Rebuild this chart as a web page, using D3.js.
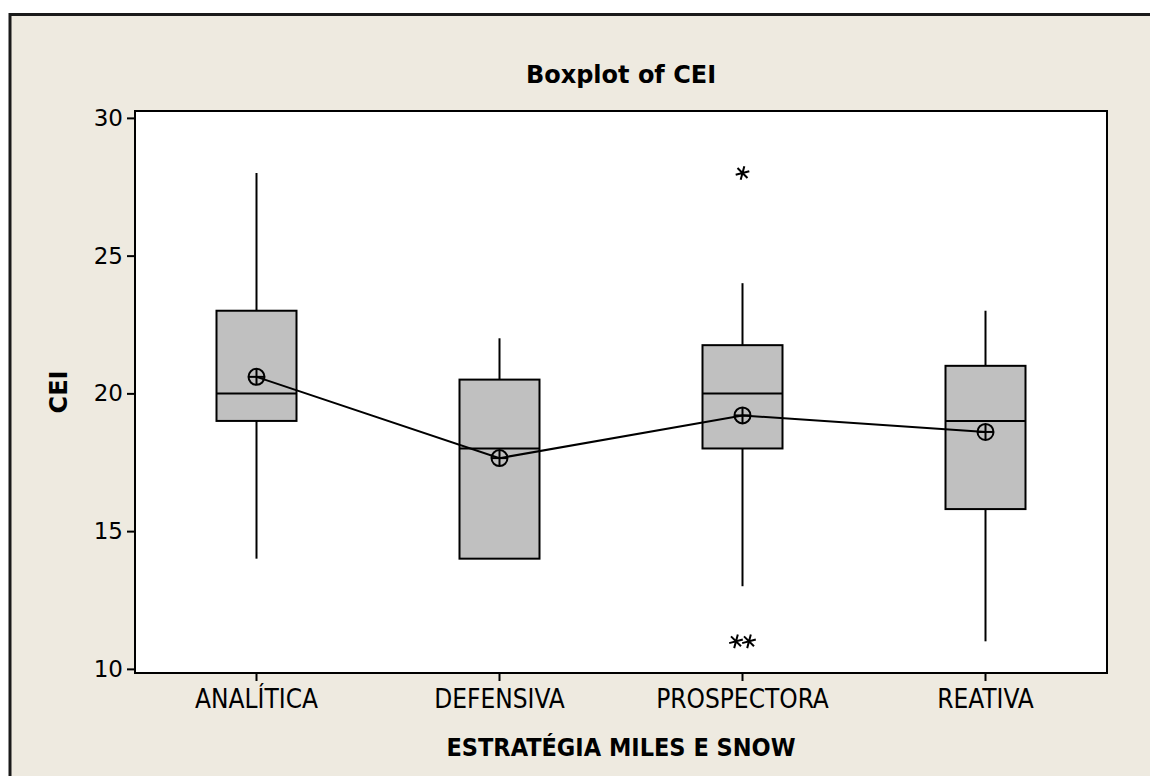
<!DOCTYPE html>
<html>
<head>
<meta charset="utf-8">
<script src="https://cdn.jsdelivr.net/npm/d3@7"></script>
<style>
  body { margin: 0; background: #fff; }
  svg { display: block; }
</style>
</head>
<body>
<div id="chart"></div>
<script>
// values
var categories = ["ANALÍTICA", "DEFENSIVA", "PROSPECTORA", "REATIVA"];
var whiskerLow = [14, 14, 13, 11];
var q1 = [19, 14, 18, 15.8];
var median = [20, 18, 20, 19];
var q3 = [23, 20.5, 21.75, 21];
var whiskerHigh = [28, 22, 24, 23];
var means = [20.6, 17.65, 19.2, 18.6];
var outliers = [[], [], [28, 11, 11], []];
var yTicks = [10, 15, 20, 25, 30];

var width = 1150, height = 776;
var plot = { left: 135, right: 1107, top: 111, bottom: 673 };

var svg = d3.select("#chart").append("svg")
  .attr("width", width)
  .attr("height", height);

// outer beige frame (cut off at right and bottom like the screenshot)
svg.append("rect")
  .attr("x", 10).attr("y", 14.5)
  .attr("width", width + 20).attr("height", height + 20)
  .attr("fill", "#eeeae0")
  .attr("stroke", "#1a1a1a")
  .attr("stroke-width", 3);

var x = d3.scaleBand()
  .domain(categories)
  .range([plot.left, plot.right])
  .padding(0);

var y = d3.scaleLinear()
  .domain([9.85, 30.25])
  .range([plot.bottom, plot.top]);

var boxW = 80;
var lw = 2;
var cx = function (i) { return x(categories[i]) + x.bandwidth() / 2; };

// plot area
svg.append("rect")
  .attr("x", plot.left).attr("y", plot.top)
  .attr("width", plot.right - plot.left)
  .attr("height", plot.bottom - plot.top)
  .attr("fill", "#fff")
  .attr("stroke", "#000")
  .attr("stroke-width", lw);

// y axis
var yAxis = svg.append("g")
  .attr("transform", "translate(" + plot.left + ",0)")
  .call(d3.axisLeft(y).tickValues(yTicks).tickSize(8).tickSizeOuter(0).tickPadding(4));
yAxis.select(".domain").remove();
yAxis.selectAll("line").attr("stroke", "#000").attr("stroke-width", lw);
yAxis.selectAll("text")
  .attr("font-family", "DejaVu Sans, Verdana, sans-serif")
  .attr("font-size", 23)
  .attr("fill", "#000");

// x axis
var xAxis = svg.append("g")
  .attr("transform", "translate(0," + plot.bottom + ")")
  .call(d3.axisBottom(x).tickSize(8).tickSizeOuter(0).tickPadding(9));
xAxis.select(".domain").remove();
xAxis.selectAll("line").attr("stroke", "#000").attr("stroke-width", lw);
xAxis.selectAll("text")
  .attr("font-family", "DejaVu Sans Condensed, Liberation Sans Narrow, sans-serif")
  .attr("font-stretch", "condensed")
  .attr("font-size", 26)
  .attr("fill", "#000");

var g = svg.append("g");

// whiskers
categories.forEach(function (c, i) {
  g.append("line")
    .attr("x1", cx(i)).attr("x2", cx(i))
    .attr("y1", y(whiskerHigh[i])).attr("y2", y(q3[i]))
    .attr("stroke", "#000").attr("stroke-width", lw);
  g.append("line")
    .attr("x1", cx(i)).attr("x2", cx(i))
    .attr("y1", y(q1[i])).attr("y2", y(whiskerLow[i]))
    .attr("stroke", "#000").attr("stroke-width", lw);
});

// boxes
g.selectAll(".box")
  .data(categories)
  .enter().append("rect")
  .attr("class", "box")
  .attr("x", function (d, i) { return cx(i) - boxW / 2; })
  .attr("y", function (d, i) { return y(q3[i]); })
  .attr("width", boxW)
  .attr("height", function (d, i) { return y(q1[i]) - y(q3[i]); })
  .attr("fill", "#c0c0c0")
  .attr("stroke", "#000")
  .attr("stroke-width", lw);

// medians
g.selectAll(".median")
  .data(categories)
  .enter().append("line")
  .attr("x1", function (d, i) { return cx(i) - boxW / 2; })
  .attr("x2", function (d, i) { return cx(i) + boxW / 2; })
  .attr("y1", function (d, i) { return y(median[i]); })
  .attr("y2", function (d, i) { return y(median[i]); })
  .attr("stroke", "#000")
  .attr("stroke-width", lw);

// outliers, repeated values sit side by side
var star = d3.symbol().type(d3.symbolAsterisk).size(140);
outliers.forEach(function (vals, i) {
  var counts = {};
  vals.forEach(function (v) { counts[v] = (counts[v] || 0) + 1; });
  var seen = {};
  vals.forEach(function (v) {
    var n = counts[v];
    var k = seen[v] || 0;
    seen[v] = k + 1;
    var dx = (k - (n - 1) / 2) * 13;
    g.append("path")
      .attr("d", star)
      .attr("transform", "translate(" + (cx(i) + dx) + "," + y(v) + ") rotate(75)")
      .attr("fill", "none")
      .attr("stroke", "#000")
      .attr("stroke-width", lw);
  });
});

// mean connect line
var meanLine = d3.line()
  .x(function (d, i) { return cx(i); })
  .y(function (d) { return y(d); });
g.append("path")
  .datum(means)
  .attr("d", meanLine)
  .attr("fill", "none")
  .attr("stroke", "#000")
  .attr("stroke-width", lw);

// mean symbols (circle with cross)
means.forEach(function (m, i) {
  var mg = g.append("g").attr("transform", "translate(" + cx(i) + "," + y(m) + ")");
  mg.append("circle").attr("r", 8).attr("fill", "none")
    .attr("stroke", "#000").attr("stroke-width", lw);
  mg.append("line").attr("x1", -8).attr("x2", 8)
    .attr("stroke", "#000").attr("stroke-width", lw);
  mg.append("line").attr("y1", -8).attr("y2", 8)
    .attr("stroke", "#000").attr("stroke-width", lw);
});

// titles
var midX = (plot.left + plot.right) / 2;
svg.append("text")
  .attr("x", midX).attr("y", 83)
  .attr("text-anchor", "middle")
  .attr("font-family", "DejaVu Sans, Verdana, sans-serif")
  .attr("font-weight", "bold")
  .attr("font-size", 24)
  .text("Boxplot of CEI");

svg.append("text")
  .attr("x", midX).attr("y", 756)
  .attr("text-anchor", "middle")
  .attr("font-family", "DejaVu Sans Condensed, Liberation Sans Narrow, sans-serif")
  .attr("font-stretch", "condensed")
  .attr("font-weight", "bold")
  .attr("font-size", 25)
  .text("ESTRATÉGIA MILES E SNOW");

svg.append("text")
  .attr("transform", "translate(67," + ((plot.top + plot.bottom) / 2) + ") rotate(-90)")
  .attr("text-anchor", "middle")
  .attr("font-family", "DejaVu Sans, Verdana, sans-serif")
  .attr("font-weight", "bold")
  .attr("font-size", 24)
  .text("CEI");
</script>
</body>
</html>
